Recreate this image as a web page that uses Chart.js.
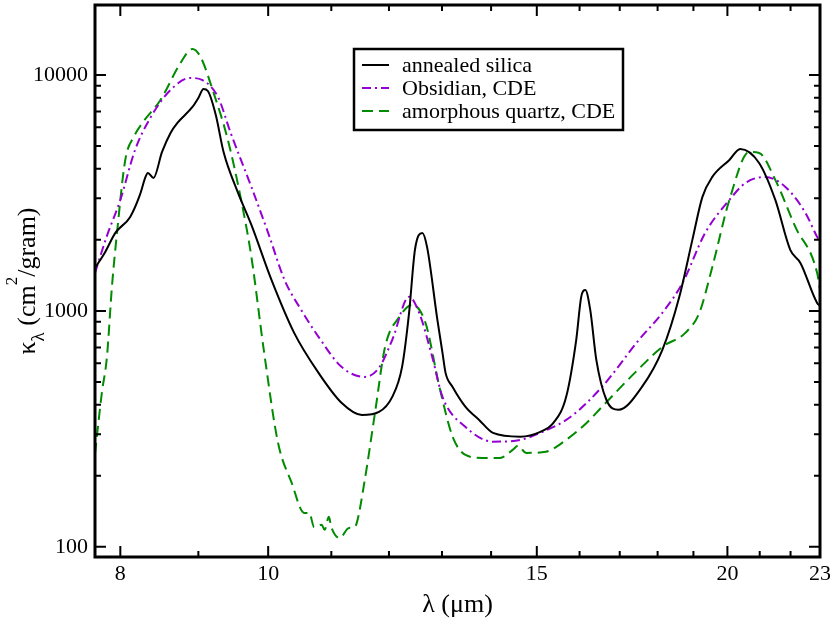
<!DOCTYPE html>
<html>
<head>
<meta charset="utf-8">
<script src="https://cdn.jsdelivr.net/npm/chart.js@4.4.0/dist/chart.umd.min.js"></script>
<style>
  body { margin: 0; background: #fff; }
</style>
</head>
<body>
<canvas id="kappa" width="830" height="625"></canvas>
<script>
// wavelength (micron) and mass absorption coefficient (cm^2/gram)
var silicaWl = [7.70, 7.82, 7.94, 8.12, 8.24, 8.31, 8.34, 8.41, 8.52, 8.63, 8.72, 8.92, 9.00, 9.07, 9.13, 9.24, 9.35, 9.55, 9.75, 10.05,
  10.40, 10.79, 11.17, 11.52, 11.82, 12.06, 12.24, 12.37, 12.48, 12.62, 12.71, 12.91, 13.01, 13.07, 13.21, 13.47, 13.75, 14.04, 14.63, 15.08,
  15.38, 15.68, 15.92, 16.04, 16.14, 16.26, 16.41, 16.66, 16.97, 17.58, 18.13, 18.60, 18.97, 19.26, 19.55, 20.06, 20.39, 20.98, 21.50, 21.99,
  22.33, 22.90, 23.0];
var silicaK = [1521, 1778, 2141, 2502, 3101, 3697, 3844, 3660, 4718, 5678, 6260, 7317, 7989, 8722, 8553, 6768, 4700, 3193, 2314, 1353,
  807, 546, 408, 362, 373, 432, 579, 981, 1814, 2141, 1867, 916, 664, 546, 476, 392, 345, 304, 293, 307,
  335, 432, 754, 1147, 1227, 1010, 620, 420, 381, 476, 683, 1147, 2000, 3042, 3697, 4363, 4858, 4237, 2953, 1814,
  1597, 1081, 1050];

var obsidianWl = [7.70, 7.84, 8.00, 8.18, 8.37, 8.63, 8.89, 9.05, 9.27, 9.45, 9.75, 10.0, 10.25, 10.51, 10.79, 11.17, 11.57, 11.82, 12.06, 12.37,
  12.56, 12.81, 13.01, 13.47, 14.04, 14.63, 15.08, 15.78, 16.55, 17.50, 18.13, 18.69, 19.34, 20.06, 20.55, 21.17, 21.83, 22.50, 22.90, 23.0];
var obsidianK = [1449, 2079, 2953, 4811, 6573, 8640, 9712, 9524, 8069, 5678, 3352, 2141, 1353, 1010, 776, 579, 525, 573, 754, 1147,
  981, 638, 432, 322, 279, 284, 304, 355, 476, 754, 981, 1314, 2141, 2953, 3486, 3697, 3352, 2602, 2059, 1960];

var quartzWl = [7.70, 7.78, 7.84, 7.90, 7.96, 8.06, 8.17, 8.27, 8.50, 8.76, 8.92, 9.03, 9.21, 9.41, 9.60, 9.75, 9.94, 10.15, 10.36, 10.56,
  10.64, 10.72, 10.84, 10.89, 10.96, 11.00, 11.14, 11.29, 11.38, 11.43, 11.57, 11.75, 11.93, 12.19, 12.43, 12.68, 12.95, 13.21, 13.47, 13.82,
  14.19, 14.47, 14.58, 14.76, 15.21, 15.68, 16.17, 16.55, 17.39, 18.13, 18.77, 19.17, 19.55, 20.06, 20.67, 20.98, 21.50, 22.16, 22.90, 23.0];
var quartzK = [248, 449, 638, 1276, 2141, 4363, 5514, 6260, 7836, 11240, 12890, 11920, 8388, 5304, 2953, 1694, 664, 276, 187, 139,
  139, 121, 124, 118, 134, 121, 109, 120, 121, 126, 192, 370, 704, 943, 1060, 889, 476, 293, 245, 238,
  238, 258, 268, 250, 253, 284, 335, 392, 546, 704, 807, 981, 1536, 2953, 4718, 4672, 3591, 2270, 1449, 1227];

var xTicks = [8, 9, 10, 11, 12, 13, 14, 15, 16, 17, 18, 19, 20, 21, 22, 23];
var xTickLabels = [8, 10, 15, 20, 23];
var yTicks = [100, 200, 300, 400, 500, 600, 700, 800, 900, 1000, 2000, 3000, 4000, 5000, 6000, 7000, 8000, 9000, 10000];
var yTickLabels = [100, 1000, 10000];

var serif = '"Liberation Serif", "Times New Roman", Times, serif';

function pts(wl, k) {
  return wl.map(function (w, i) { return { x: w, y: k[i] }; });
}

// inward ticks on all four sides, the box, the legend and the y title
var framePlugin = {
  id: 'frame',
  afterDraw: function (chart) {
    var ctx = chart.ctx, a = chart.chartArea;
    var xs = chart.scales.x, ys = chart.scales.y;
    ctx.save();
    ctx.strokeStyle = '#000';
    ctx.lineWidth = 2;
    ctx.beginPath();
    xs.ticks.forEach(function (t) {
      var px = xs.getPixelForValue(t.value);
      var len = xTickLabels.indexOf(t.value) >= 0 ? 11 : 6;
      ctx.moveTo(px, a.bottom); ctx.lineTo(px, a.bottom - len);
      ctx.moveTo(px, a.top); ctx.lineTo(px, a.top + len);
    });
    ys.ticks.forEach(function (t) {
      var py = ys.getPixelForValue(t.value);
      var len = yTickLabels.indexOf(t.value) >= 0 ? 11 : 6;
      ctx.moveTo(a.left, py); ctx.lineTo(a.left + len, py);
      ctx.moveTo(a.right, py); ctx.lineTo(a.right - len, py);
    });
    ctx.stroke();
    ctx.lineWidth = 3;
    ctx.strokeRect(a.left, a.top, a.right - a.left, a.bottom - a.top);

    // legend box
    var lx = 354, ly = 49, lw = 269, lh = 81;
    ctx.fillStyle = '#fff';
    ctx.fillRect(lx, ly, lw, lh);
    ctx.lineWidth = 2.5;
    ctx.strokeRect(lx, ly, lw, lh);
    ctx.font = '22px ' + serif;
    ctx.textBaseline = 'alphabetic';
    chart.data.datasets.forEach(function (ds, i) {
      var rowY = 65 + i * 23;
      ctx.strokeStyle = ds.borderColor;
      ctx.lineWidth = 2;
      ctx.setLineDash(ds.borderDash || []);
      ctx.beginPath();
      ctx.moveTo(362, rowY); ctx.lineTo(389, rowY);
      ctx.stroke();
      ctx.setLineDash([]);
      ctx.fillStyle = '#000';
      ctx.fillText(ds.label, 402, rowY + 7);
    });

    // y axis title with subscript and superscript
    var parts = [['κ', 26, 0], ['λ', 19, 9], [' (cm', 26, 0], ['2', 17, -18], ['/gram)', 26, 0]];
    var total = 0;
    parts.forEach(function (p) { ctx.font = p[1] + 'px ' + serif; total += ctx.measureText(p[0]).width; });
    ctx.translate(35, (a.top + a.bottom) / 2);
    ctx.rotate(-Math.PI / 2);
    var cx = -total / 2;
    parts.forEach(function (p) {
      ctx.font = p[1] + 'px ' + serif;
      ctx.fillText(p[0], cx, p[2]);
      cx += ctx.measureText(p[0]).width;
    });
    ctx.restore();
  }
};

function drawChart() {
  new Chart(document.getElementById('kappa'), {
    type: 'line',
    data: {
      datasets: [
        { label: 'annealed silica', data: pts(silicaWl, silicaK), borderColor: '#000000', borderWidth: 2, borderDash: [] },
        { label: 'Obsidian, CDE', data: pts(obsidianWl, obsidianK), borderColor: 'rgb(148,0,211)', borderWidth: 2, borderDash: [9, 4, 2, 4] },
        { label: 'amorphous quartz, CDE', data: pts(quartzWl, quartzK), borderColor: 'rgb(0,139,0)', borderWidth: 2, borderDash: [11, 6] }
      ]
    },
    options: {
      responsive: false,
      animation: false,
      layout: { padding: { top: 5, right: 10, left: 0, bottom: 0 } },
      elements: {
        point: { radius: 0 },
        line: { cubicInterpolationMode: 'monotone', fill: false }
      },
      plugins: { legend: { display: false }, tooltip: { enabled: false } },
      scales: {
        x: {
          type: 'logarithmic', min: 7.7, max: 23, bounds: 'data',
          grid: { display: false, drawTicks: false },
          border: { display: false },
          afterBuildTicks: function (s) { s.ticks = xTicks.map(function (v) { return { value: v }; }); },
          afterFit: function (s) { s.height = 68; s.paddingLeft = 0; s.paddingRight = 0; },
          ticks: {
            autoSkip: false, maxRotation: 0, minRotation: 0, padding: 4, color: '#000',
            font: { family: serif, size: 22 },
            callback: function (v) { return xTickLabels.indexOf(v) >= 0 ? String(v) : ''; }
          },
          title: { display: true, text: 'λ (μm)', color: '#000', font: { family: serif, size: 26 }, padding: { top: 0, bottom: 4 } }
        },
        y: {
          type: 'logarithmic', min: 90.5, max: 19800, bounds: 'data',
          grid: { display: false, drawTicks: false },
          border: { display: false },
          afterBuildTicks: function (s) { s.ticks = yTicks.map(function (v) { return { value: v }; }); },
          afterFit: function (s) { s.width = 95; s.paddingTop = 0; s.paddingBottom = 0; },
          ticks: {
            autoSkip: false, padding: 7, color: '#000',
            font: { family: serif, size: 22 },
            callback: function (v) { return yTickLabels.indexOf(v) >= 0 ? String(v) : ''; }
          }
        }
      }
    },
    plugins: [framePlugin]
  });
}

// make sure the serif face is ready before the canvas text is drawn
if (document.fonts && document.fonts.load) {
  Promise.all([
    document.fonts.load('22px "Liberation Serif"'),
    document.fonts.load('26px "Liberation Serif"')
  ]).then(drawChart, drawChart);
} else {
  drawChart();
}
</script>
</body>
</html>
